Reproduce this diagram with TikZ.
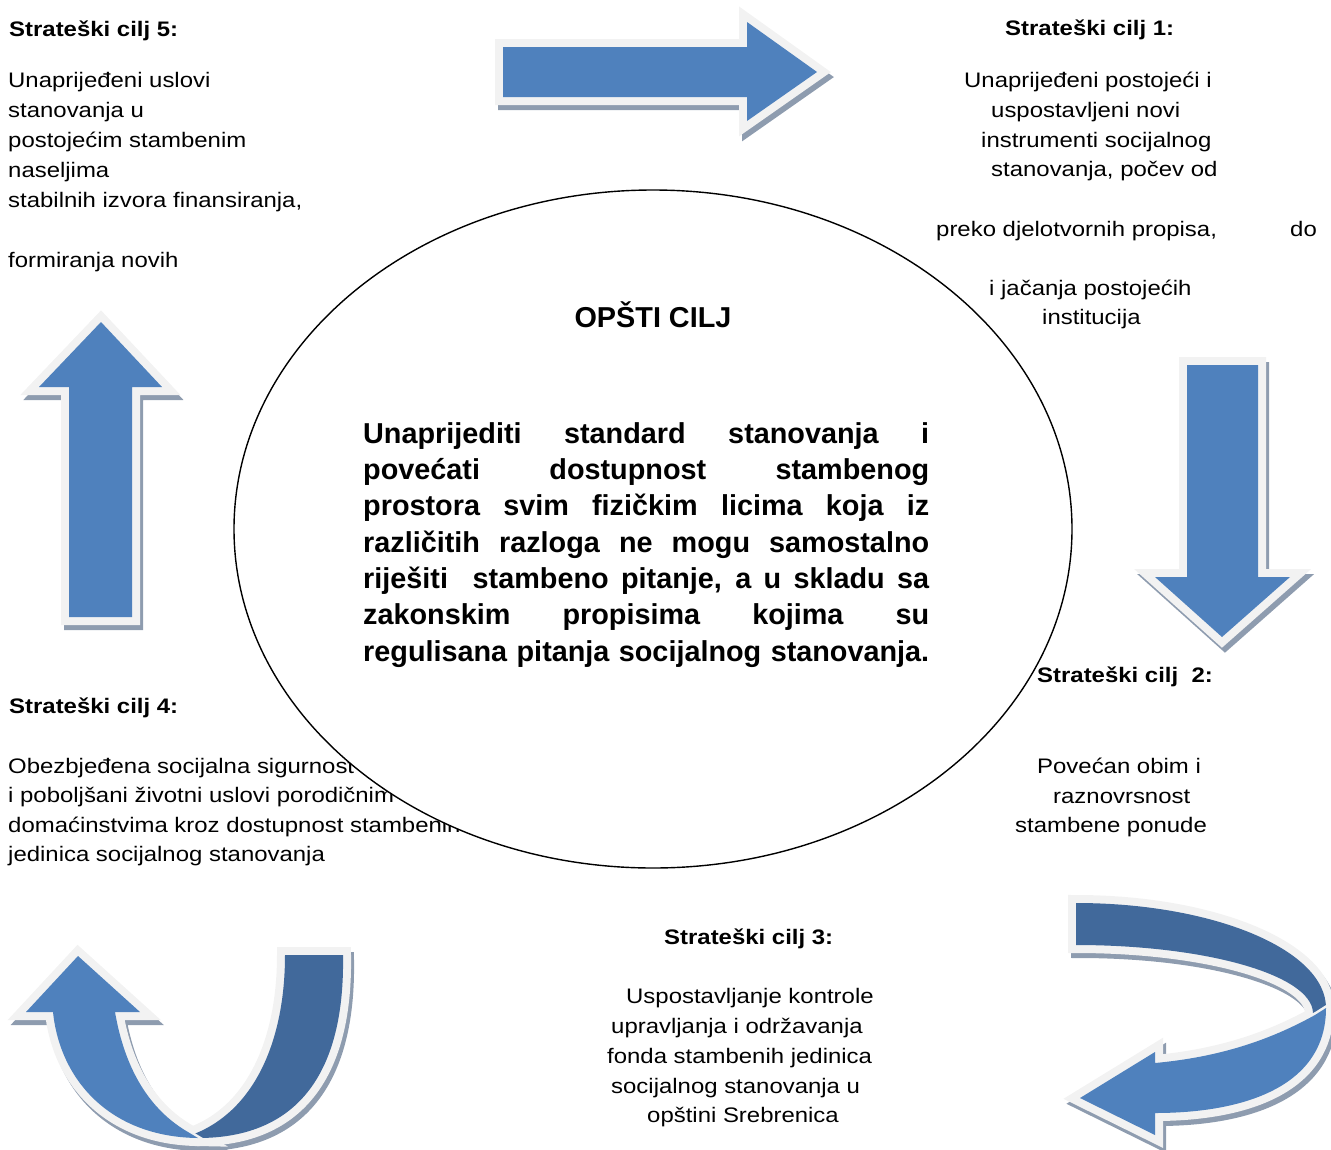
\documentclass[tikz,border=0pt]{standalone}
\usepackage{fontspec}
\setmainfont{Liberation Sans}
\newfontfamily\widefont[FakeStretch=1.14]{Liberation Sans}
\definecolor{ablue}{HTML}{4F81BD}
\definecolor{adark}{HTML}{41699B}
\definecolor{aout}{HTML}{F2F2F2}
\definecolor{ashadow}{HTML}{8E9CAF}
\begin{document}
\begin{tikzpicture}[x=1pt,y=-1pt,
  txt/.style={anchor=base west, inner sep=0pt, font=\widefont\fontsize{21}{30}\selectfont},
  hd/.style={anchor=base west, inner sep=0pt, font=\widefont\bfseries\fontsize{21}{30}\selectfont},
  ctr/.style={anchor=base west, inner sep=0pt, font=\bfseries\fontsize{28.8}{36}\selectfont},
  shd/.style={fill=ashadow, draw=ashadow, line width=16pt, line join=miter},
  outl/.style={fill=aout, draw=aout, line width=16pt, line join=miter},
  thinout/.style={draw=aout, line width=5pt, line join=miter},
  pArrR/.style={insert path={(503,47) -- (747,47) -- (747,22) -- (817,72) -- (747,121) -- (747,97) -- (503,97) -- cycle}},
  pArrD/.style={insert path={(1187,365) -- (1258,365) -- (1258,577) -- (1290,577) -- (1222,637) -- (1155,577) -- (1187,577) -- cycle}},
  pArrU/.style={insert path={(69,617) -- (132,617) -- (132,387) -- (162,387) -- (101,322) -- (39,387) -- (69,387) -- cycle}},
  pBRback/.style={insert path={(1076,903) .. controls (1214,903) and (1326,950) .. (1326,1008) -- (1313,1013) .. controls (1312,975) and (1206,945) .. (1076,945) -- cycle}},
  pBRfront/.style={insert path={(1326,1008) .. controls (1326,1087) and (1243,1113) .. (1155,1113) -- (1155,1135) -- (1080,1098) -- (1155,1052) -- (1155,1063) .. controls (1220,1057) and (1270,1040) .. (1315,1015) -- cycle}},
  pBLback/.style={insert path={(285,955) -- (343,955) .. controls (345,1070) and (300,1138) .. (198,1138) -- (194,1134) .. controls (255,1110) and (285,1040) .. (285,955) -- cycle}},
  pBLfront/.style={insert path={(198,1138) .. controls (110,1137) and (60,1080) .. (53,1012) -- (26,1012) -- (78,956) -- (140,1012) -- (115,1012) .. controls (125,1070) and (150,1110) .. (188,1132) -- cycle}},
]
\useasboundingbox (0,0) rectangle (1331,1149);

% ---- shadows of all arrows
\begin{scope}[shift={(3,5)}]
  \path[shd, pArrR]; \path[shd, pArrD]; \path[shd, pArrU];
  \path[shd, pBRback]; \path[shd, pBRfront];
  \path[shd, pBLback]; \path[shd, pBLfront];
\end{scope}
% ---- straight arrows
\path[outl, pArrR]; \path[fill=ablue, pArrR];
\path[outl, pArrD]; \path[fill=ablue, pArrD];
\path[outl, pArrU]; \path[fill=ablue, pArrU];

% ---- curved arrow bottom right
\path[outl, pBRback]; \path[outl, pBRfront];
\path[fill=adark, pBRback];
\path[thinout, pBRfront]; \path[fill=ablue, pBRfront];

% ---- curved arrow bottom left
\path[outl, pBLback]; \path[outl, pBLfront];
\path[fill=adark, pBLback];
\path[thinout, pBLfront]; \path[fill=ablue, pBLfront];

% ---- block 4 (partly hidden by the ellipse)
\node[hd] (h4) at (9,713) {Strateški cilj 4:};
\node[txt] (t4a) at (8,773) {Obezbjeđena socijalna sigurnost};
\node[txt] (t4b) at (8,802) {i poboljšani životni uslovi porodičnim};
\node[txt] (t4c) at (8,832) {domaćinstvima kroz dostupnost stambenih};
\node[txt] (t4d) at (8,861) {jedinica socijalnog stanovanja};

% ---- central ellipse
\draw[fill=white, line width=1.4pt] (653,529) ellipse [x radius=419, y radius=339];

\node[anchor=base, inner sep=0pt, font=\bfseries\fontsize{28.8}{36}\selectfont] (opsti) at (653,327) {OPŠTI CILJ};
\node[ctr] (c1) at (363,443) {\hbox to 566pt{Unaprijediti standard stanovanja i}};
\node[ctr] (c2) at (363,479.3) {\hbox to 566pt{povećati dostupnost stambenog}};
\node[ctr] (c3) at (363,515.7) {\hbox to 566pt{prostora svim fizičkim licima koja iz}};
\node[ctr] (c4) at (363,552) {\hbox to 566pt{različitih razloga ne mogu samostalno}};
\node[ctr] (c5) at (363,588.3) {\hbox to 566pt{riješiti\ \ stambeno pitanje, a u skladu sa}};
\node[ctr] (c6) at (363,624.7) {\hbox to 566pt{zakonskim propisima kojima su}};
\node[ctr] (c7) at (363,661) {\hbox to 566pt{regulisana pitanja socijalnog stanovanja.}};

% ---- block 5
\node[hd] (h5) at (9,36) {Strateški cilj 5:};
\node[txt] (t5a) at (8,87) {Unaprijeđeni uslovi};
\node[txt] (t5b) at (8,117) {stanovanja u};
\node[txt] (t5c) at (8,147) {postojećim stambenim};
\node[txt] (t5d) at (8,177) {naseljima};
\node[txt] (t5e) at (8,207) {stabilnih izvora finansiranja,};
\node[txt] (t5f) at (8,267) {formiranja novih};

% ---- block 1
\node[hd] (h1) at (1005,35) {Strateški cilj 1:};
\node[txt] (t1a) at (964,87) {Unaprijeđeni postojeći i};
\node[txt] (t1b) at (991,117) {uspostavljeni novi};
\node[txt] (t1c) at (981,147) {instrumenti socijalnog};
\node[txt] (t1d) at (991,176) {stanovanja, počev od};
\node[txt] (t1e) at (936,236) {preko djelotvornih propisa,};
\node[txt] (t1f) at (1290,236) {do};
\node[txt] (t1g) at (989,295) {i jačanja postojećih};
\node[txt] (t1h) at (1042,324) {institucija};

% ---- block 2
\node[hd, fill=white] (h2) at (1037,682) {Strateški cilj\ \ 2:};
\node[txt] (t2a) at (1037,773) {Povećan obim i};
\node[txt] (t2b) at (1053,803) {raznovrsnost};
\node[txt] (t2c) at (1015,832) {stambene ponude};

% ---- block 3
\node[hd] (h3) at (664,944) {Strateški cilj 3:};
\node[txt] (t3a) at (626,1003) {Uspostavljanje kontrole};
\node[txt] (t3b) at (611,1033) {upravljanja i održavanja};
\node[txt] (t3c) at (607,1063) {fonda stambenih jedinica};
\node[txt] (t3d) at (611,1093) {socijalnog stanovanja u};
\node[txt] (t3e) at (647,1122) {opštini Srebrenica};
\end{tikzpicture}
\end{document}
